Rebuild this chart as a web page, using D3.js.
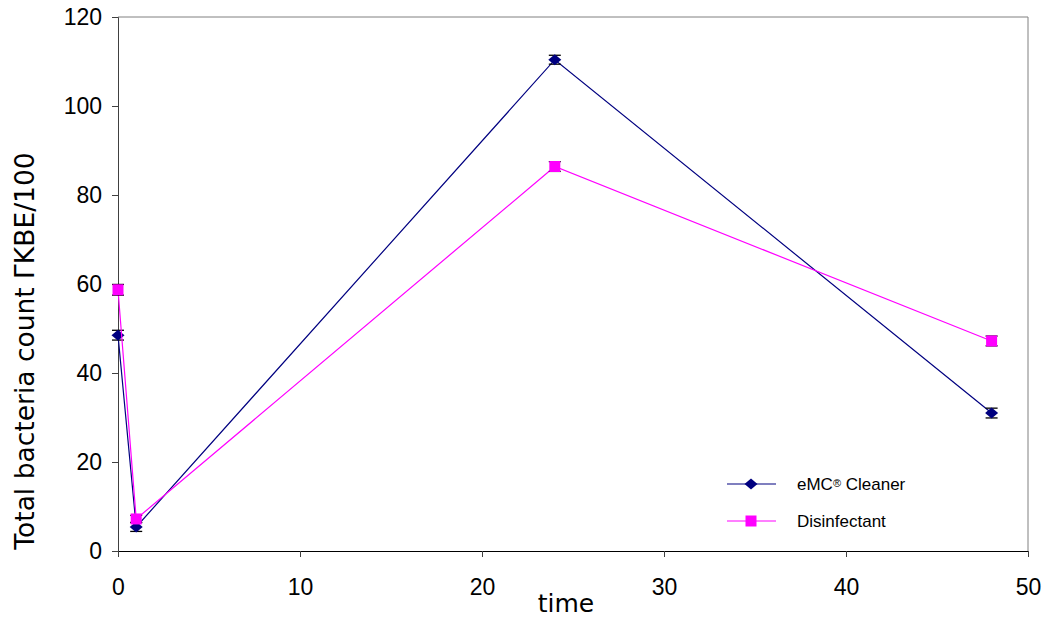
<!DOCTYPE html>
<html>
<head>
<meta charset="utf-8">
<script src="https://cdn.jsdelivr.net/npm/d3@7"></script>
<style>
  html, body { margin: 0; padding: 0; background: #fff; }
  svg { display: block; }
</style>
</head>
<body>
<svg id="chart" width="1046" height="620"></svg>
<script>
// Sampling times (hours)
const times = [0, 1, 24, 48];

// Total bacteria count per series, with standard error
const cleanerValues = [48.5, 5.4, 110.4, 31.0];
const cleanerErrors = [1.1, 1.0, 1.0, 1.1];
const disinfectantValues = [58.7, 7.2, 86.4, 47.2];
const disinfectantErrors = [1.2, 0.8, 1.1, 1.1];

const seriesNames = ["eMC\u00AE Cleaner", "Disinfectant"];
const xTicks = [0, 10, 20, 30, 40, 50];
const yTicks = [0, 20, 40, 60, 80, 100, 120];

const svg = d3.select("#chart");
const margin = { left: 118, top: 17, right: 18, bottom: 69 };
const W = 1046, H = 620;
const x = d3.scaleLinear().domain([0, 50]).range([margin.left, W - margin.right]);
const y = d3.scaleLinear().domain([0, 120]).range([H - margin.bottom, margin.top]);

// Wide diamond marker
const diamond = { draw(ctx) { ctx.moveTo(0, -5.5); ctx.lineTo(6.5, 0); ctx.lineTo(0, 5.5); ctx.lineTo(-6.5, 0); ctx.closePath(); } };

// Plot frame: top and right edges
svg.append("path")
  .attr("d", `M${x(0)},${y(120)}H${x(50)}V${y(0)}`)
  .attr("fill", "none").attr("stroke", "#808080").attr("stroke-width", 1);

// Y axis
const yAxis = svg.append("g")
  .attr("transform", `translate(${x(0)},0)`)
  .call(d3.axisLeft(y).tickValues(yTicks).tickSize(6).tickPadding(10).tickFormat(d3.format("d")));
yAxis.select(".domain").attr("stroke", "#404040");
yAxis.selectAll(".tick line").attr("stroke", "#404040");
yAxis.selectAll(".tick text")
  .attr("font-family", "Liberation Sans, Arial, sans-serif")
  .attr("font-size", 23).attr("fill", "#000");

// X axis
const xAxis = svg.append("g")
  .attr("transform", `translate(0,${y(0)})`)
  .call(d3.axisBottom(x).tickValues(xTicks).tickSize(6).tickFormat(d3.format("d")));
xAxis.select(".domain").attr("stroke", "#000");
xAxis.selectAll(".tick line").attr("stroke", "#404040");
xAxis.selectAll(".tick text")
  .attr("y", 44).attr("dy", null)
  .attr("font-family", "Liberation Sans, Arial, sans-serif")
  .attr("font-size", 23).attr("fill", "#000");

// Axis titles
svg.append("text")
  .attr("x", 566).attr("y", 612)
  .attr("text-anchor", "middle")
  .attr("font-family", "DejaVu Sans, Verdana, sans-serif")
  .attr("font-size", 25).attr("fill", "#000")
  .text("time");

svg.append("text")
  .attr("transform", "translate(34,351) rotate(-90)")
  .attr("text-anchor", "middle")
  .attr("font-family", "DejaVu Sans, Verdana, sans-serif")
  .attr("font-size", 26.5).attr("fill", "#000")
  .text("Total bacteria count \u0393KBE/100");

const series = [
  { name: seriesNames[0], values: cleanerValues, errors: cleanerErrors, color: "#000080", shape: diamond, size: 64 },
  { name: seriesNames[1], values: disinfectantValues, errors: disinfectantErrors, color: "#FF00FF", shape: d3.symbolSquare, size: 121 }
];

const line = d3.line().x(d => x(d.t)).y(d => y(d.v));

series.forEach(s => {
  const pts = times.map((t, i) => ({ t, v: s.values[i], e: s.errors[i] }));
  const g = svg.append("g");
  g.append("path").datum(pts)
    .attr("d", line).attr("fill", "none")
    .attr("stroke", s.color).attr("stroke-width", 1.2);

  // error bars
  const eb = g.selectAll(".eb").data(pts).enter().append("g");
  eb.append("line")
    .attr("x1", d => x(d.t)).attr("x2", d => x(d.t))
    .attr("y1", d => y(d.v + d.e)).attr("y2", d => y(d.v - d.e))
    .attr("stroke", "#000").attr("stroke-width", 1);
  [1, -1].forEach(sign => {
    eb.append("line")
      .attr("x1", d => x(d.t) - 6).attr("x2", d => x(d.t) + 6)
      .attr("y1", d => y(d.v + sign * d.e)).attr("y2", d => y(d.v + sign * d.e))
      .attr("stroke", "#000").attr("stroke-width", 1.3);
  });

  g.selectAll(".mk").data(pts).enter().append("path")
    .attr("transform", d => `translate(${x(d.t)},${y(d.v)})`)
    .attr("d", d3.symbol().type(s.shape).size(s.size))
    .attr("fill", s.color);
});

// Legend
const legend = svg.append("g").attr("transform", "translate(727,484)");
series.forEach((s, i) => {
  const row = legend.append("g").attr("transform", `translate(0,${i * 37})`);
  row.append("line").attr("x1", 0).attr("x2", 49).attr("y1", 0).attr("y2", 0)
    .attr("stroke", s.color).attr("stroke-width", 1.2);
  row.append("path").attr("transform", "translate(24,0)")
    .attr("d", d3.symbol().type(s.shape).size(s.size)).attr("fill", s.color);
  const txt = row.append("text").attr("x", 70).attr("y", 6)
    .attr("font-family", "Liberation Sans, Arial, sans-serif")
    .attr("font-size", 17).attr("fill", "#000");
  if (i === 0) {
    txt.append("tspan").text("eMC");
    txt.append("tspan").attr("font-size", 11).attr("dy", -3).text("\u00AE");
    txt.append("tspan").attr("dy", 3).text(" Cleaner");
  } else {
    txt.text(s.name);
  }
});
</script>
</body>
</html>
